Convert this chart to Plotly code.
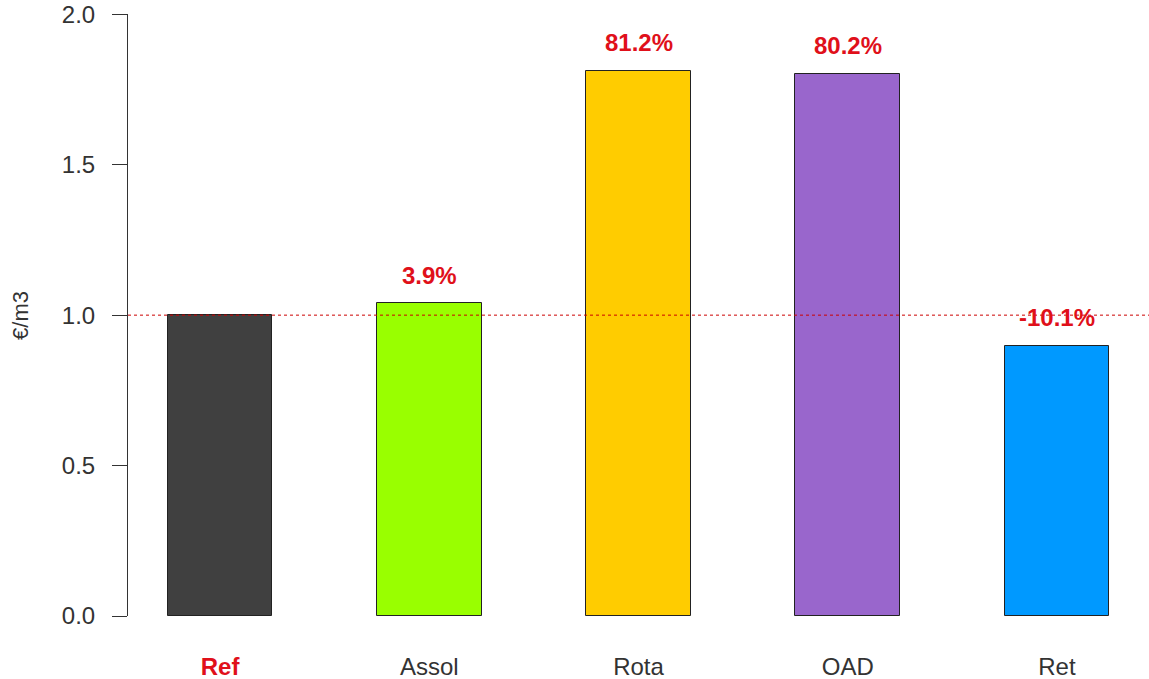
import plotly.graph_objects as go

scenarios = ["Ref", "Assol", "Rota", "OAD", "Ret"]
cost = [1.0, 1.039, 1.812, 1.802, 0.899]
change_labels = ["", "3.9%", "81.2%", "80.2%", "-10.1%"]
bar_colors = ["#404040", "#99FF00", "#FFCC00", "#9966CC", "#0099FF"]

x_pos = list(range(len(scenarios)))
tick_text = ["<b><span style='color:#e0101a'>Ref</span></b>"] + scenarios[1:]

fig = go.Figure()
fig.add_trace(go.Bar(
    x=x_pos, y=cost, width=0.5,
    marker=dict(color=bar_colors, line=dict(color="#222222", width=1)),
    hoverinfo="skip", showlegend=False,
))

for xi, yi, lab in zip(x_pos, cost, change_labels):
    if lab:
        fig.add_annotation(x=xi, y=yi, text="<b>" + lab + "</b>", showarrow=False,
                           yshift=28, font=dict(color="#e0101a", size=24))

# reference level
fig.add_shape(type="line", xref="paper", x0=0, x1=1, y0=1, y1=1, yref="y",
              line=dict(color="#cc0000", width=1, dash="dot"))

# y axis title
fig.add_annotation(xref="paper", yref="y", x=-0.106, y=1.0, text="€/m3",
                   xanchor="center", yanchor="middle",
                   textangle=-90, showarrow=False, font=dict(size=22, color="#333333"))

fig.update_layout(
    width=1149, height=679,
    margin=dict(l=128, r=0, t=14, b=63),
    paper_bgcolor="white", plot_bgcolor="white",
    font=dict(family="Liberation Sans, Arial", size=24, color="#333333"),
    bargap=0,
    xaxis=dict(range=[-0.44, 4.44], tickmode="array", tickvals=x_pos, ticktext=tick_text,
               showline=False, showgrid=False, zeroline=False, ticks="",
               ticklabelstandoff=34),
    yaxis=dict(range=[0, 2.001], tickmode="array", tickvals=[0, 0.5, 1.0, 1.5, 2.0],
               ticktext=["0.0", "0.5", "1.0", "1.5", "2.0"],
               showline=True, linecolor="#333333", linewidth=1,
               ticks="outside", ticklen=15, tickcolor="#333333",
               ticklabelstandoff=12,
               showgrid=False, zeroline=False),
)

fig.write_html("out.html", config={"displayModeBar": False},
               post_script="document.body.style.margin='0';")
